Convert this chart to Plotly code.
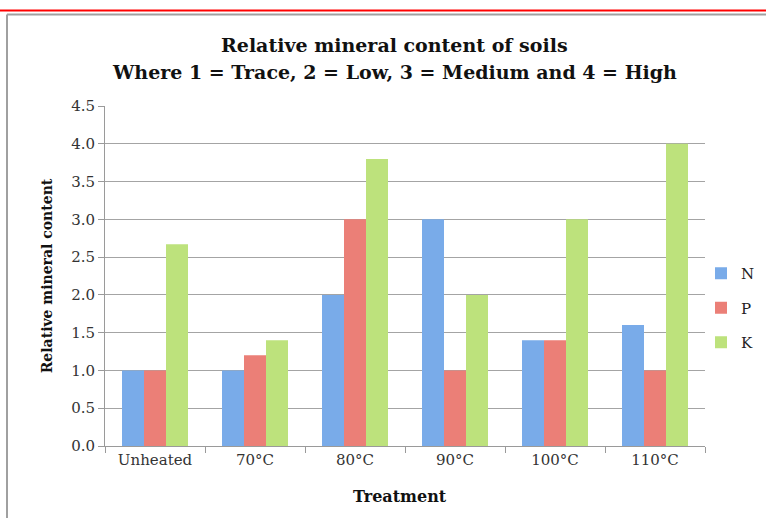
import plotly.graph_objects as go

categories = ["Unheated", "70°C", "80°C", "90°C", "100°C", "110°C"]
n_values = [1.0, 1.0, 2.0, 3.0, 1.4, 1.6]
p_values = [1.0, 1.2, 3.0, 1.0, 1.4, 1.0]
k_values = [2.67, 1.4, 3.8, 2.0, 3.0, 4.0]
y_ticks = [0.0, 0.5, 1.0, 1.5, 2.0, 2.5, 3.0, 3.5, 4.0, 4.5]
title_lines = ["Relative mineral content of soils",
               "Where 1 = Trace, 2 = Low, 3 = Medium and 4 = High"]

serif = "DejaVu Serif, Liberation Serif, serif"

fig = go.Figure()
fig.add_trace(go.Bar(x=categories, y=n_values, name="N", legendgroup="n",
                     marker=dict(color="#79abe9", line=dict(width=0))))
fig.add_trace(go.Bar(x=categories, y=p_values, name="P", legendgroup="p",
                     marker=dict(color="#eb7f77", line=dict(width=0))))
fig.add_trace(go.Bar(x=categories, y=k_values, name="K", legendgroup="k",
                     marker=dict(color="#bde27c", line=dict(width=0))))

W, H = 766, 518
L, R, T, B = 105, 61, 106, 72
pw, ph = W - L - R, H - T - B

def px(x):
    return (x - L) / pw

def py(y):
    return (H - B - y) / ph

annotations = [
    dict(text="<b>" + title_lines[0] + "</b>", xref="paper", yref="paper",
         x=px(394), y=py(45), xanchor="center", yanchor="middle", showarrow=False,
         font=dict(family=serif, size=19, color="#111111")),
    dict(text="<b>" + title_lines[1] + "</b>", xref="paper", yref="paper",
         x=px(394), y=py(72), xanchor="center", yanchor="middle", showarrow=False,
         font=dict(family=serif, size=19, color="#111111")),
    dict(text="<b>Treatment</b>", xref="paper", yref="paper",
         x=px(400), y=py(496), xanchor="center", yanchor="middle", showarrow=False,
         font=dict(family=serif, size=16, color="#111111")),
]

fig.update_layout(
    width=W, height=H,
    margin=dict(l=L, r=R, t=T, b=B, autoexpand=False),
    paper_bgcolor="white", plot_bgcolor="white",
    barmode="group", bargap=0.34, bargroupgap=0,
    font=dict(family=serif, color="#333333", size=15),
    xaxis=dict(
        showline=True, linecolor="#9a9a9a", linewidth=1,
        ticks="outside", tickson="boundaries", ticklen=6, tickcolor="#9a9a9a",
        tickfont=dict(family=serif, size=15, color="#333333"),
        showgrid=False, automargin=False,
    ),
    yaxis=dict(
        range=[0, 4.5], tickvals=y_ticks, ticktext=[f"{v:.1f}" for v in y_ticks],
        showline=True, linecolor="#9a9a9a", linewidth=1,
        ticks="outside", ticklen=6, tickcolor="#9a9a9a",
        showgrid=True, gridcolor="#a4a4a4", gridwidth=1,
        zeroline=False, automargin=False,
        tickfont=dict(family=serif, size=15, color="#333333"),
        title=dict(text="<b>Relative mineral content</b>", font=dict(family=serif, size=14, color="#111111"), standoff=15),
    ),
    legend=dict(
        x=px(701), xanchor="left", y=py(257), yanchor="top",
        font=dict(family=serif, size=15, color="#222222"),
        tracegroupgap=12, itemwidth=30, bgcolor="rgba(0,0,0,0)",
    ),
    annotations=annotations,
    shapes=[
        dict(type="line", xref="paper", yref="paper", x0=px(0), x1=px(W), y0=py(10.5), y1=py(10.5),
             line=dict(color="#ff0000", width=2)),
        dict(type="line", xref="paper", yref="paper", x0=px(7), x1=px(W), y0=py(14.5), y1=py(14.5),
             line=dict(color="#a0a0a0", width=2)),
        dict(type="line", xref="paper", yref="paper", x0=px(7), x1=px(7), y0=py(14.5), y1=py(H + 5),
             line=dict(color="#a0a0a0", width=2)),
    ],
)

fig.write_html("out.html", config={"displayModeBar": False},
               post_script="document.body.style.margin='0';document.body.style.overflow='hidden';")
